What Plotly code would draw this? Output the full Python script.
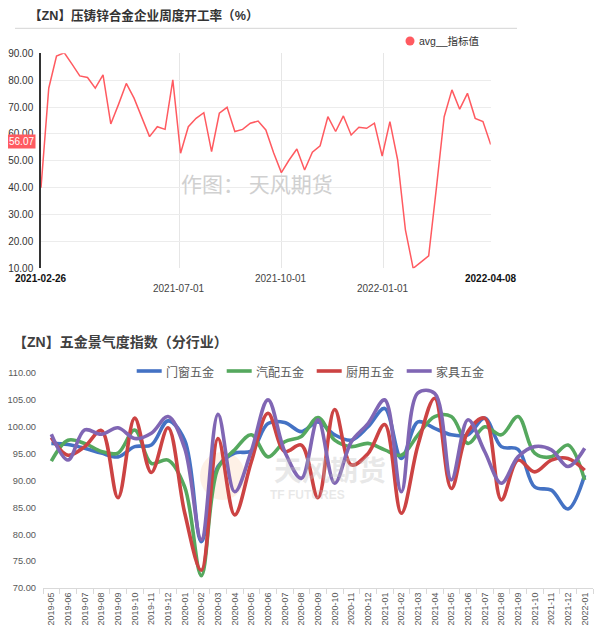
import pandas as pd
import plotly.graph_objects as go

# the page body keeps its default 8px margin, so the figure is drawn 8px in from
# the top-left corner of the 604x639 window
PAGE_W, PAGE_H, BODY = 604, 639, 8
W, H = PAGE_W - BODY, PAGE_H - BODY

# ---- top chart: weekly operating rate of zinc die-casting alloy plants (%)
week_start = "2021-02-26"
op_rate = [40.0, 77.0, 89.0, 90.2, 86.0, 81.6, 81.0, 77.0, 82.0, 63.7,
           71.0, 78.8, 73.3, 65.8, 59.0, 62.7, 61.7, 80.1, 52.8, 62.7,
           65.8, 67.9, 53.4, 67.7, 69.9, 60.9, 61.7, 64.0, 64.8, 61.5,
           53.0, 45.6, 50.3, 54.4, 46.6, 53.2, 55.6, 66.4, 60.9, 66.7,
           59.6, 62.5, 62.1, 64.0, 51.8, 64.6, 50.3, 24.3, 10.0, 12.3,
           14.6, 40.0, 66.4, 76.4, 69.2, 75.1, 65.8, 64.6, 56.07]
top_ticks = ["2021-02-26", "2021-07-01", "2021-10-01", "2022-01-01", "2022-04-08"]
top_gridvals = ["2021-07-01", "2021-10-01", "2022-01-01"]

# ---- bottom chart: hardware prosperity index by sub-industry
months = ["2019-05", "2019-06", "2019-07", "2019-08", "2019-09", "2019-10", "2019-11",
          "2019-12", "2020-01", "2020-02", "2020-03", "2020-04", "2020-05", "2020-06",
          "2020-07", "2020-08", "2020-09", "2020-10", "2020-11", "2020-12", "2021-01",
          "2021-02", "2021-03", "2021-04", "2021-05", "2021-06", "2021-07", "2021-08",
          "2021-09", "2021-10", "2021-11", "2021-12", "2022-01"]
door_window = [96.9, 96.7, 96.0, 95.1, 94.4, 96.3, 96.6, 101.1, 97.5, 78.6, 92.6,
               95.1, 95.5, 100.6, 100.8, 99.1, 100.9, 98.5, 97.5, 100.0, 103.4, 94.1,
               100.9, 99.7, 98.5, 98.5, 101.6, 96.3, 95.8, 88.8, 88.2, 84.7, 91.0]
auto_parts = [93.6, 97.5, 96.9, 95.4, 95.1, 99.4, 93.2, 93.8, 88.8, 72.3, 92.3,
              95.7, 98.5, 94.4, 97.2, 98.2, 101.7, 97.5, 96.3, 96.9, 95.7, 94.7,
              98.5, 101.9, 101.9, 96.9, 100.0, 98.5, 101.9, 95.1, 94.4, 96.6, 90.1]
kitchen = [98.0, 94.7, 96.3, 99.3, 86.8, 101.6, 91.5, 99.8, 84.0, 73.3, 97.8,
           83.6, 93.5, 102.5, 95.4, 96.6, 86.8, 103.2, 92.9, 95.0, 100.4, 83.9,
           96.6, 105.3, 88.5, 99.1, 101.6, 86.4, 93.8, 91.6, 93.8, 94.1, 91.9]
furniture = [98.6, 93.8, 99.4, 98.6, 99.8, 97.8, 98.8, 101.9, 96.0, 79.0, 102.3,
             87.9, 95.5, 105.0, 95.4, 90.4, 101.3, 89.5, 97.2, 100.6, 105.0, 87.9,
             106.3, 106.2, 90.1, 101.3, 95.4, 89.5, 94.4, 96.3, 95.7, 92.6, 96.0]
series = [("门窗五金", door_window, "#4472c4"),
          ("汽配五金", auto_parts, "#55a85e"),
          ("厨用五金", kitchen, "#cc4343"),
          ("家具五金", furniture, "#8066b4")]

RED = "#ff5a60"
CJK = "Noto Sans CJK SC, Liberation Sans, sans-serif"
LAT = "Liberation Sans, Noto Sans CJK SC, sans-serif"


def px(x):
    # page pixel -> paper fraction
    return (x - BODY) / W


def py(y):
    return 1 - (y - BODY) / H


weeks = pd.date_range(week_start, periods=len(op_rate), freq="7D")

fig = go.Figure()
fig.add_trace(go.Scatter(x=weeks, y=op_rate, mode="lines", name="avg__指标值",
                         line=dict(color=RED, width=1.5), showlegend=False,
                         xaxis="x", yaxis="y"))

for name, vals, color in series:
    fig.add_trace(go.Scatter(x=months, y=vals, mode="lines", name=name, showlegend=False,
                             line=dict(color=color, width=3.6, shape="spline", smoothing=1.0),
                             xaxis="x2", yaxis="y2"))

fig.update_layout(
    width=W, height=H,
    margin=dict(l=0, r=0, t=0, b=0),
    paper_bgcolor="white", plot_bgcolor="white",
    font=dict(family=LAT, color="#333"),
    xaxis=dict(domain=[px(41), px(490.7)], anchor="y", type="date", automargin=False,
               range=[top_ticks[0], top_ticks[-1]],
               tickvals=top_gridvals, showticklabels=False,
               showgrid=True, gridcolor="#e6e6e6", gridwidth=1,
               zeroline=False, showline=False, ticks=""),
    yaxis=dict(domain=[py(268.3), py(53.3)], anchor="x", range=[10, 90], dtick=10,
               automargin=False,
               tickformat=".2f", showgrid=True, gridcolor="#ececec", zeroline=False,
               showline=True, linecolor="#333", linewidth=1.5, ticks="",
               ticklabelstandoff=4, tickfont=dict(size=10, color="#333")),
    xaxis2=dict(domain=[px(43), px(593)], anchor="y2", type="category", automargin=False,
                categoryorder="array", categoryarray=months, range=[-0.5, 32.5],
                tickangle=-90, showline=True, linecolor="#d9d9d9", linewidth=1,
                ticks="outside", tickson="boundaries", ticklen=5, tickcolor="#d9d9d9",
                showgrid=False, zeroline=False,
                tickfont=dict(size=9, color="#595959")),
    yaxis2=dict(domain=[py(588), py(373)], anchor="x2", range=[70, 110], dtick=5,
                automargin=False,
                tickformat=".2f", showgrid=False, zeroline=False, showline=False,
                ticks="", ticklabelstandoff=6,
                tickfont=dict(size=9.3, color="#595959")),
)

annotations = [
    dict(text="<b>【ZN】压铸锌合金企业周度开工率（%）</b>", x=px(27), y=py(15),
         font=dict(family=LAT, size=12.6, color="#333")),
    dict(text="avg__指标值", x=px(416.5), y=py(41),
         font=dict(family=LAT, size=10.5, color="#333")),
    dict(text="作图： 天风期货", x=px(256.5), y=py(183), xanchor="center",
         font=dict(family=CJK, size=21, color="#d0d0d0")),
    dict(text="<b>【ZN】五金景气度指数（分行业）</b>", x=px(11), y=py(342),
         font=dict(family=LAT, size=14, color="#404040")),
    dict(text="<b>天风期货</b>", x=px(330), y=py(469), xanchor="center",
         font=dict(family=CJK, size=28, color="rgba(190,190,190,0.35)")),
    dict(text="<b>TF FUTURES</b>", x=px(307), y=py(495), xanchor="center",
         font=dict(size=12, color="rgba(190,190,190,0.35)")),
]

shapes = [
    dict(type="line", xref="paper", yref="paper", x0=px(15), x1=px(517),
         y0=py(28.3), y1=py(28.3), line=dict(color="#d4d4d4", width=1)),
    dict(type="circle", xref="paper", yref="paper", x0=px(405.5), x1=px(414.5),
         y0=py(45.5), y1=py(36.5), fillcolor=RED, line=dict(width=0)),
    dict(type="circle", xref="paper", yref="paper", x0=px(200), x1=px(245),
         y0=py(500), y1=py(452), fillcolor="rgba(250,190,140,0.22)", line=dict(width=0),
         layer="below"),
]

# legend of the bottom chart: short line swatch + name, 90px per entry
for i, (name, _, color) in enumerate(series):
    x0 = 136.7 + 90 * i
    shapes.append(dict(type="line", xref="paper", yref="paper", x0=px(x0), x1=px(x0 + 25),
                       y0=py(371), y1=py(371), line=dict(color=color, width=3.6)))
    annotations.append(dict(text=name, x=px(x0 + 27), y=py(371),
                            font=dict(family=CJK, size=12, color="#595959")))

for a in annotations:
    a.setdefault("xanchor", "left")
    a.update(xref="paper", yref="paper", yanchor="middle", showarrow=False)

# top-chart date labels: ends in bold, inner ones staggered on two rows
for i, d in enumerate(top_ticks):
    end = i in (0, len(top_ticks) - 1)
    annotations.append(dict(
        text=f"<b>{d}</b>" if end else d, x=d, xref="x", y=py(288 if i % 2 else 278),
        yref="paper", xanchor="center", yanchor="middle", showarrow=False,
        font=dict(size=10, color="#111" if end else "#444")))

annotations.append(
    dict(text="56.07", x=px(36), y=56.07, xref="paper", yref="y", xanchor="right",
         yanchor="middle", yshift=3, showarrow=False, bgcolor=RED, borderpad=1,
         font=dict(size=10, color="white")))

fig.update_layout(annotations=annotations, shapes=shapes)

fig.write_html("out.html")
